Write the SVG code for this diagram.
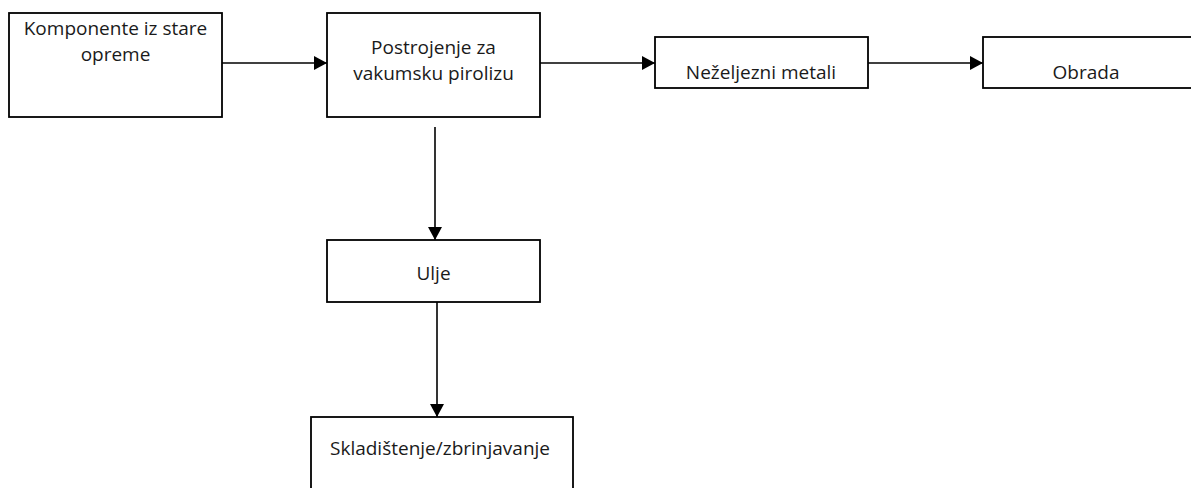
<svg xmlns="http://www.w3.org/2000/svg" width="1191" height="488" viewBox="0 0 1191 488">
<style>
.box{fill:#fff;stroke:#000;stroke-width:1.8}
.lbl{font-family:"Open Sans","Noto Sans",sans-serif;font-size:19px;fill:#1a1a1a;text-anchor:middle}
.conn{stroke:#000;stroke-width:1.6;fill:none;marker-end:url(#arr)}
</style>
<defs>
<marker id="arr" markerUnits="userSpaceOnUse" markerWidth="14" markerHeight="14" refX="13" refY="7" orient="auto">
<path d="M0,0 L13,7 L0,14 z" fill="#000"/>
</marker>
</defs>
<rect width="1191" height="488" fill="#fff"/>
<g id="connectors">
<line class="conn" x1="222" y1="63" x2="327" y2="63"/>
<line class="conn" x1="540" y1="63" x2="655" y2="63"/>
<line class="conn" x1="868" y1="63" x2="983" y2="63"/>
<line class="conn" x1="435" y1="127" x2="435" y2="240"/>
<line class="conn" x1="437" y1="302" x2="437" y2="417"/>
</g>
<g id="komponente">
<rect class="box" x="9" y="13" width="213" height="104"/>
<text class="lbl" x="115.5" y="35">Komponente iz stare</text>
<text class="lbl" x="115.5" y="61">opreme</text>
</g>
<g id="postrojenje">
<rect class="box" x="327" y="13" width="213" height="104"/>
<text class="lbl" x="433.5" y="54">Postrojenje za</text>
<text class="lbl" x="433.5" y="80">vakumsku pirolizu</text>
</g>
<g id="nezeljezni">
<rect class="box" x="655" y="37" width="213" height="51"/>
<text class="lbl" x="761" y="79">Neželjezni metali</text>
</g>
<g id="obrada">
<rect class="box" x="983" y="37" width="213" height="51"/>
<text class="lbl" x="1086" y="79">Obrada</text>
</g>
<g id="ulje">
<rect class="box" x="327" y="240" width="213" height="62"/>
<text class="lbl" x="433.5" y="280">Ulje</text>
</g>
<g id="skladistenje">
<rect class="box" x="311" y="417" width="262" height="90"/>
<text class="lbl" x="440" y="455">Skladištenje/zbrinjavanje</text>
</g>
</svg>
